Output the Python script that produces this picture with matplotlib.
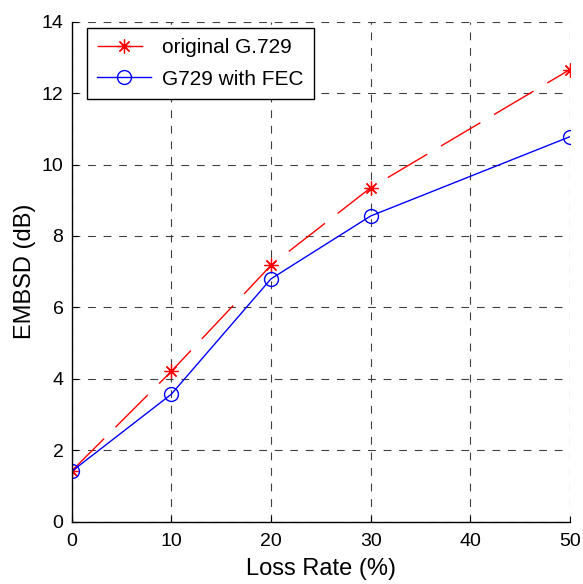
import numpy as np
from matplotlib import pyplot as plt

plt.rcParams['font.family'] = ['Liberation Sans', 'DejaVu Sans']

loss_rate = [0, 10, 20, 30, 50]
orig_g729 = [1.42, 4.21, 7.18, 9.35, 12.66]
g729_fec = [1.41, 3.57, 6.8, 8.56, 10.78]

fig = plt.figure(figsize=(5.83, 5.84), dpi=100)
ax = fig.add_axes([0.123, 0.1067, 0.8547, 0.8562])

# MATLAB-style asterisk: plus and cross overlaid (8 spokes)
ax.plot(loss_rate, orig_g729, color='red', linestyle=(0, (33, 11.5)), linewidth=1,
        marker=(8, 2, 0), markersize=10, markeredgewidth=0.9, label='original G.729')
ax.plot(loss_rate, g729_fec, color='blue', linestyle='-', linewidth=1,
        marker='o', markersize=10, markerfacecolor='none', markeredgewidth=1,
        label='G729 with FEC')

ax.set_xlim(0, 50)
ax.set_ylim(0, 14)
ax.set_xticks(np.arange(0, 51, 10))
ax.set_yticks(np.arange(0, 15, 2))
ax.grid(True, color='#404040', linestyle=(0, (7, 7)), linewidth=0.8)
ax.tick_params(direction='in', labelsize=14, length=4)
ax.tick_params(axis='x', pad=8)
ax.tick_params(axis='y', pad=6)
ax.spines['top'].set_visible(False)
ax.spines['right'].set_visible(False)
for s in ['left', 'bottom']:
    ax.spines[s].set_linewidth(1)

ax.set_xlabel('Loss Rate (%)', fontsize=17, labelpad=6)
ax.set_ylabel('EMBSD (dB)', fontsize=17, labelpad=4)

leg = ax.legend(loc='upper left', bbox_to_anchor=(0.03, 0.988), borderaxespad=0,
                fontsize=15, fancybox=False, framealpha=1, edgecolor='black',
                handlelength=2.6, handletextpad=0.5, borderpad=0.5,
                labelspacing=0.6)
leg.get_frame().set_linewidth(1)

plt.savefig('out.png', dpi=100)
